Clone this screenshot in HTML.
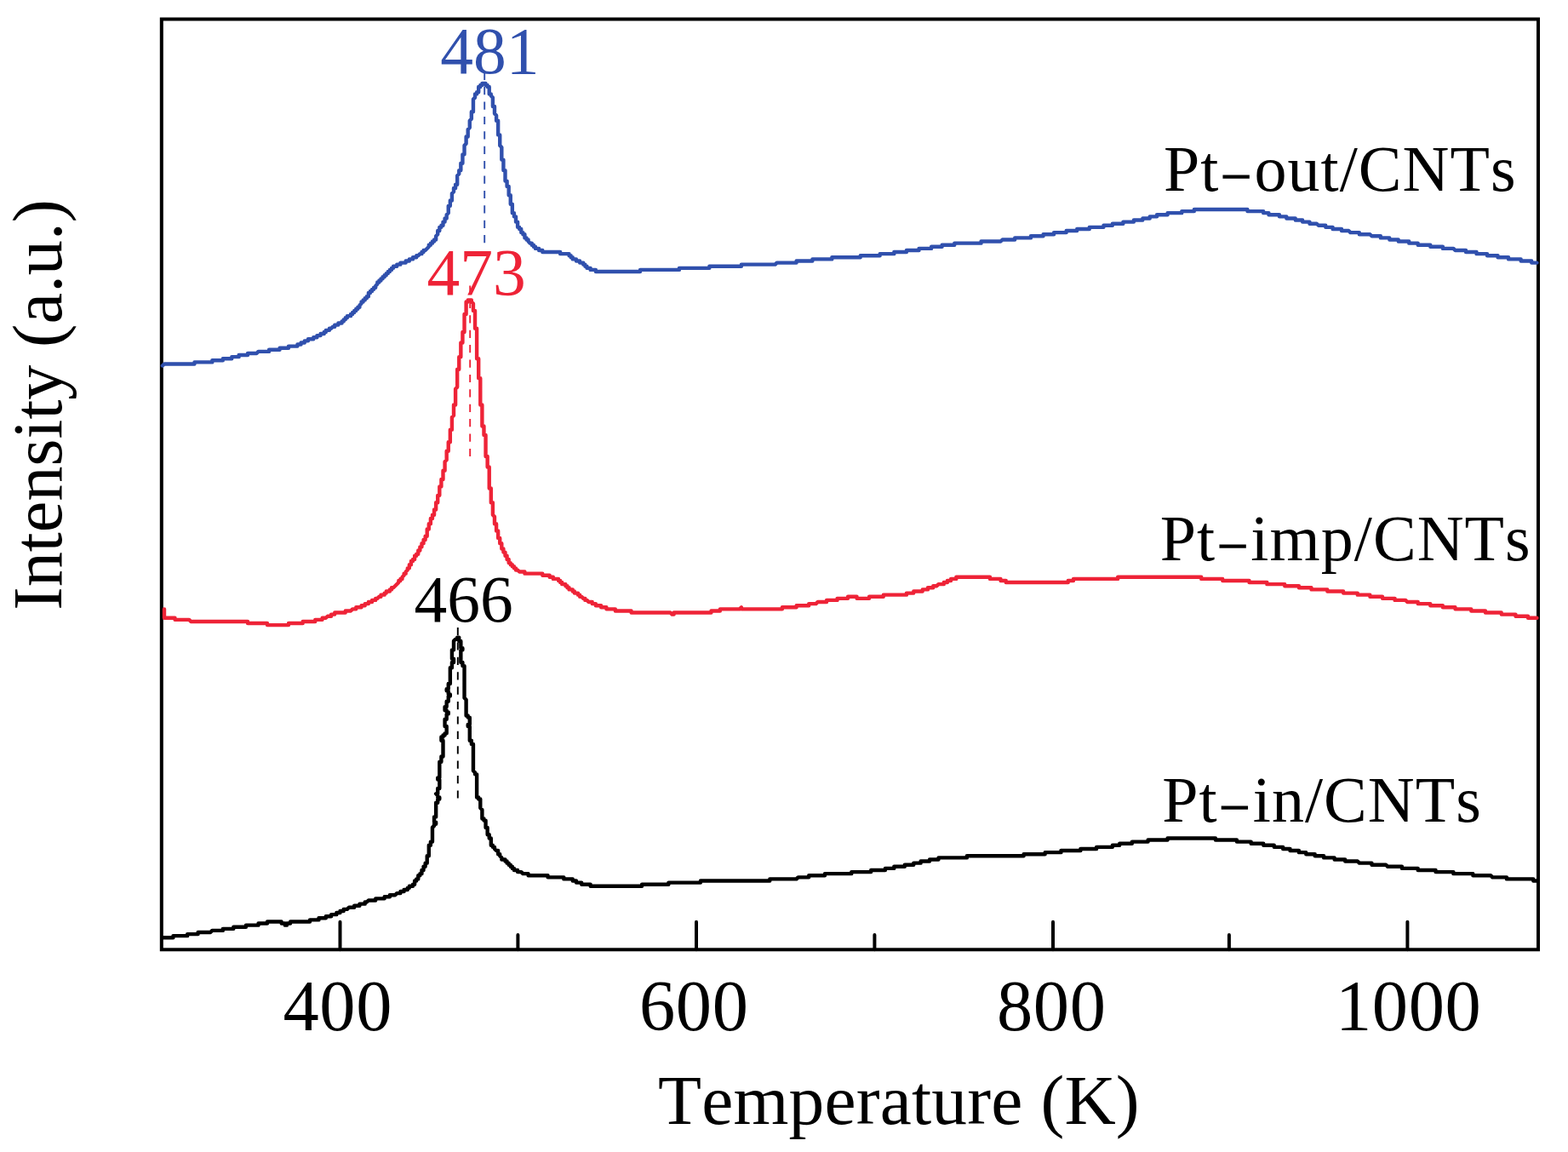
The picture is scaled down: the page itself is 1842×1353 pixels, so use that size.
<!DOCTYPE html>
<html><head><meta charset="utf-8"><title>Intensity vs Temperature</title>
<style>
html,body{margin:0;padding:0;background:#fff;}
body{width:1842px;height:1353px;overflow:hidden;}
svg{display:block;}
text{font-family:'Liberation Serif','Times New Roman',serif;font-kerning:none;}
</style></head><body>
<svg width="1842" height="1353" viewBox="0 0 1842 1353">
<rect x="0" y="0" width="1842" height="1353" fill="#fff"/>
<g stroke="#000" stroke-width="4" stroke-linecap="round" fill="none">
<line x1="399.5" y1="1115.3" x2="399.5" y2="1082.7"/><line x1="818.0" y1="1115.3" x2="818.0" y2="1082.7"/><line x1="1237.0" y1="1115.3" x2="1237.0" y2="1082.7"/><line x1="1653.4" y1="1115.3" x2="1653.4" y2="1082.7"/><line x1="608.4" y1="1115.3" x2="608.4" y2="1098.1"/><line x1="1027.4" y1="1115.3" x2="1027.4" y2="1098.1"/><line x1="1443.9" y1="1115.3" x2="1443.9" y2="1098.1"/>
</g>
<rect x="189.8" y="22.5" width="1617.2" height="1092.8" fill="none" stroke="#000" stroke-width="4"/>
<g fill="none" stroke-linejoin="round" stroke-linecap="round" stroke-width="4.4">
<polyline stroke="#3050ad" points="190.9,429.568 192.986,427.482 228.448,427.482 228.448,425.396 249.308,425.396 249.308,423.31 261.824,423.31 261.824,421.224 272.254,421.224 272.254,419.138 280.598,419.138 280.598,417.052 291.028,417.052 291.028,414.966 301.458,414.966 303.544,412.88 316.06,412.88 316.06,410.794 328.576,410.794 328.576,408.708 339.006,408.708 339.006,406.622 349.436,406.622 349.436,404.536 353.608,404.536 353.608,402.45 357.78,402.45 357.78,400.364 361.952,400.364 361.952,398.278 368.21,398.278 368.21,396.192 372.382,396.192 372.382,394.106 376.554,394.106 376.554,392.02 380.726,392.02 380.726,389.934 382.812,389.934 382.812,387.848 386.984,387.848 386.984,385.762 389.07,385.762 391.156,383.676 393.242,383.676 393.242,381.59 397.414,381.59 397.414,379.504 401.586,379.504 401.586,377.418 403.672,377.418 403.672,375.332 405.758,375.332 405.758,373.246 407.844,373.246 407.844,371.16 412.016,371.16 412.016,369.074 414.102,369.074 414.102,366.988 416.188,366.988 416.188,364.902 418.274,364.902 418.274,362.816 420.36,362.816 420.36,360.73 422.446,360.73 422.446,358.644 424.532,356.558 424.532,354.472 426.618,354.472 426.618,352.386 428.704,352.386 428.704,350.3 430.79,350.3 430.79,348.214 432.876,348.214 432.876,344.042 434.962,344.042 434.962,341.956 437.048,341.956 437.048,339.87 439.134,339.87 439.134,337.784 441.22,337.784 441.22,335.698 443.306,333.612 443.306,331.526 445.392,331.526 445.392,329.44 447.478,329.44 447.478,327.354 449.564,327.354 449.564,325.268 451.65,325.268 451.65,323.182 453.736,323.182 453.736,321.096 455.822,321.096 455.822,319.01 457.908,319.01 457.908,316.924 459.994,316.924 459.994,314.838 462.08,314.838 462.08,312.752 466.252,312.752 466.252,310.666 470.424,310.666 470.424,308.58 476.682,308.58 476.682,306.494 480.854,306.494 480.854,304.408 485.026,304.408 485.026,302.322 489.198,302.322 489.198,300.236 491.284,300.236 493.37,298.15 495.456,298.15 495.456,296.064 497.542,296.064 497.542,293.978 499.628,293.978 503.8,289.806 503.8,287.72 505.886,287.72 505.886,285.634 507.972,285.634 507.972,283.548 510.058,283.548 510.058,281.462 512.144,281.462 512.144,277.29 514.23,275.204 514.23,271.032 516.316,271.032 516.316,266.86 518.402,266.86 518.402,264.774 520.488,264.774 520.488,260.602 522.574,260.602 522.574,256.43 524.66,256.43 524.66,252.258 526.746,250.172 526.746,241.828 528.832,241.828 528.832,235.57 530.918,235.57 530.918,227.226 533.004,225.14 533.004,220.968 535.09,220.968 535.09,216.796 537.176,216.796 537.176,206.366 539.262,204.28 539.262,200.108 541.348,200.108 541.348,191.764 543.434,191.764 543.434,181.334 545.52,181.334 545.52,170.904 547.606,168.818 547.606,160.474 549.692,160.474 549.692,152.13 551.778,150.044 551.778,141.7 553.864,139.614 553.864,131.27 555.95,131.27 555.95,116.668 558.036,114.582 558.036,110.41 560.122,110.41 560.122,108.324 562.208,108.324 562.208,102.066 564.294,102.066 564.294,99.98 566.38,99.98 566.38,97.894 570.552,97.894 570.552,99.98 572.638,99.98 572.638,102.066 574.724,102.066 574.724,110.41 576.81,110.41 576.81,112.496 578.896,114.582 578.896,125.012 580.982,125.012 580.982,133.356 583.068,135.442 583.068,141.7 585.154,141.7 585.154,158.388 587.24,158.388 587.24,170.904 589.326,172.99 589.326,187.592 591.412,187.592 591.412,200.108 593.498,200.108 593.498,212.624 595.584,212.624 595.584,218.882 597.67,218.882 597.67,229.312 599.756,229.312 599.756,239.742 601.842,239.742 601.842,250.172 603.928,250.172 603.928,254.344 606.014,254.344 606.014,260.602 608.1,260.602 608.1,266.86 610.186,266.86 610.186,268.946 612.272,268.946 612.272,273.118 614.358,273.118 614.358,275.204 616.444,275.204 616.444,279.376 618.53,279.376 618.53,281.462 620.616,281.462 620.616,283.548 622.702,285.634 624.788,285.634 624.788,287.72 626.874,287.72 626.874,289.806 628.96,289.806 628.96,291.892 633.132,291.892 633.132,293.978 637.304,293.978 637.304,296.064 658.164,296.064 658.164,298.15 668.594,298.15 668.594,300.236 670.68,300.236 670.68,302.322 672.766,302.322 672.766,304.408 676.938,304.408 676.938,306.494 681.11,306.494 681.11,308.58 685.282,308.58 685.282,310.666 687.368,310.666 687.368,312.752 689.454,312.752 689.454,314.838 693.626,314.838 693.626,316.924 699.884,316.924 699.884,319.01 752.034,319.01 752.034,316.924 797.926,316.924 797.926,314.838 833.388,314.838 833.388,312.752 870.936,312.752 870.936,310.666 910.57,310.666 912.656,308.58 935.602,308.58 935.602,306.494 954.376,306.494 954.376,304.408 977.322,304.408 977.322,302.322 1010.7,302.322 1010.7,300.236 1033.64,300.236 1033.64,298.15 1050.33,298.15 1050.33,296.064 1064.93,296.064 1064.93,293.978 1079.54,293.978 1079.54,291.892 1094.14,291.892 1094.14,289.806 1106.65,289.806 1106.65,287.72 1121.26,287.72 1121.26,285.634 1152.55,285.634 1152.55,283.548 1175.49,283.548 1177.58,281.462 1192.18,281.462 1192.18,279.376 1210.95,279.376 1210.95,277.29 1225.56,277.29 1225.56,275.204 1238.07,275.204 1238.07,273.118 1252.67,273.118 1252.67,271.032 1265.19,271.032 1265.19,268.946 1279.79,268.946 1279.79,266.86 1296.48,266.86 1296.48,264.774 1306.91,264.774 1306.91,262.688 1319.43,262.688 1319.43,260.602 1331.94,260.602 1331.94,258.516 1342.37,258.516 1342.37,256.43 1350.72,256.43 1350.72,254.344 1359.06,254.344 1359.06,252.258 1371.58,252.258 1371.58,250.172 1388.26,250.172 1388.26,248.086 1402.87,248.086 1402.87,246 1465.45,246 1465.45,248.086 1484.22,248.086 1484.22,250.172 1490.48,250.172 1490.48,252.258 1502.99,252.258 1502.99,254.344 1511.34,254.344 1511.34,256.43 1521.77,256.43 1521.77,258.516 1530.11,258.516 1530.11,260.602 1538.46,260.602 1538.46,262.688 1546.8,262.688 1548.89,264.774 1557.23,264.774 1557.23,266.86 1565.57,266.86 1565.57,268.946 1576,268.946 1576,271.032 1584.35,271.032 1586.43,273.118 1596.86,273.118 1596.86,275.204 1609.38,275.204 1611.47,277.29 1621.9,277.29 1621.9,279.376 1632.33,279.376 1632.33,281.462 1642.76,281.462 1642.76,283.548 1655.27,283.548 1655.27,285.634 1665.7,285.634 1665.7,287.72 1680.3,287.72 1680.3,289.806 1694.91,289.806 1694.91,291.892 1707.42,291.892 1709.51,293.978 1722.02,293.978 1722.02,296.064 1734.54,296.064 1734.54,298.15 1747.06,298.15 1747.06,300.236 1759.57,300.236 1759.57,302.322 1772.09,302.322 1772.09,304.408 1786.69,304.408 1786.69,306.494 1799.21,306.494 1799.21,308.58 1805.46,308.58"/>
<polyline stroke="#ee2337" points="192.986,715.35 192.986,725.78 205.502,725.78 205.502,727.866 222.19,727.866 224.276,729.952 291.028,729.952 291.028,732.038 313.974,732.038 313.974,734.124 339.006,734.124 339.006,732.038 355.694,732.038 355.694,729.952 370.296,729.952 370.296,727.866 378.64,727.866 378.64,725.78 382.812,725.78 384.898,723.694 389.07,723.694 389.07,721.608 393.242,721.608 393.242,719.522 405.758,719.522 405.758,717.436 412.016,717.436 414.102,715.35 418.274,715.35 418.274,713.264 424.532,713.264 424.532,711.178 428.704,711.178 428.704,709.092 432.876,709.092 432.876,707.006 437.048,707.006 437.048,704.92 441.22,704.92 441.22,702.834 443.306,702.834 445.392,700.748 447.478,700.748 447.478,698.662 451.65,698.662 451.65,696.576 453.736,696.576 453.736,694.49 457.908,694.49 457.908,692.404 459.994,692.404 459.994,690.318 462.08,690.318 468.338,684.06 468.338,681.974 470.424,681.974 470.424,679.888 472.51,679.888 472.51,677.802 474.596,675.716 474.596,673.63 476.682,673.63 476.682,671.544 478.768,669.458 478.768,667.372 480.854,667.372 480.854,663.2 482.94,663.2 482.94,659.028 485.026,659.028 485.026,656.942 487.112,656.942 487.112,652.77 489.198,652.77 489.198,650.684 491.284,650.684 491.284,646.512 493.37,646.512 493.37,642.34 495.456,642.34 495.456,638.168 497.542,638.168 497.542,633.996 499.628,633.996 499.628,629.824 501.714,629.824 501.714,621.48 503.8,621.48 503.8,615.222 505.886,615.222 505.886,608.964 507.972,608.964 507.972,604.792 510.058,604.792 510.058,598.534 512.144,598.534 512.144,590.19 514.23,590.19 514.23,581.846 516.316,581.846 516.316,571.416 518.402,571.416 518.402,563.072 520.488,563.072 520.488,552.642 522.574,552.642 522.574,542.212 524.66,540.126 524.66,529.696 526.746,529.696 526.746,519.266 528.832,519.266 528.832,504.664 530.918,504.664 530.918,490.062 533.004,487.976 533.004,475.46 535.09,475.46 535.09,456.686 537.176,454.6 537.176,433.74 539.262,433.74 539.262,419.138 541.348,419.138 541.348,402.45 543.434,402.45 543.434,389.934 545.52,389.934 545.52,369.074 547.606,369.074 547.606,354.472 549.692,354.472 549.692,352.386 553.864,352.386 553.864,354.472 555.95,356.558 555.95,364.902 558.036,364.902 558.036,385.762 560.122,385.762 560.122,421.224 562.208,421.224 562.208,444.17 564.294,444.17 564.294,475.46 566.38,475.46 566.38,500.492 568.466,500.492 568.466,510.922 570.552,510.922 570.552,535.954 572.638,535.954 572.638,548.47 574.724,548.47 574.724,573.502 576.81,573.502 576.81,590.19 578.896,590.19 578.896,604.792 580.982,606.878 580.982,615.222 583.068,615.222 583.068,623.566 585.154,623.566 585.154,631.91 587.24,631.91 587.24,638.168 589.326,638.168 589.326,644.426 591.412,644.426 591.412,648.598 593.498,648.598 593.498,652.77 595.584,652.77 595.584,656.942 597.67,656.942 597.67,661.114 599.756,661.114 599.756,663.2 601.842,663.2 601.842,665.286 603.928,665.286 603.928,667.372 606.014,667.372 606.014,669.458 608.1,669.458 610.186,671.544 616.444,671.544 616.444,673.63 637.304,673.63 637.304,675.716 645.648,675.716 645.648,677.802 649.82,677.802 649.82,679.888 656.078,679.888 656.078,681.974 658.164,681.974 658.164,684.06 660.25,684.06 660.25,686.146 664.422,686.146 664.422,688.232 666.508,688.232 666.508,690.318 668.594,690.318 668.594,692.404 672.766,692.404 672.766,694.49 674.852,694.49 674.852,696.576 679.024,696.576 679.024,698.662 681.11,698.662 681.11,700.748 683.196,700.748 685.282,702.834 687.368,702.834 687.368,704.92 689.454,704.92 691.54,707.006 695.712,707.006 695.712,709.092 699.884,709.092 699.884,711.178 706.142,711.178 706.142,713.264 712.4,713.264 712.4,715.35 722.83,715.35 722.83,717.436 741.604,717.436 741.604,719.522 787.496,719.522 789.582,721.608 791.668,721.608 791.668,719.522 835.474,719.522 835.474,717.436 845.904,717.436 845.904,715.35 868.85,715.35 870.936,713.264 870.936,715.35 918.914,715.35 918.914,713.264 935.602,713.264 935.602,711.178 950.204,711.178 950.204,709.092 958.548,709.092 960.634,707.006 971.064,707.006 971.064,704.92 983.58,704.92 983.58,702.834 996.096,702.834 996.096,700.748 1006.53,700.748 1006.53,702.834 1021.13,702.834 1021.13,700.748 1037.82,700.748 1037.82,698.662 1064.93,698.662 1064.93,696.576 1073.28,696.576 1073.28,694.49 1083.71,694.49 1083.71,692.404 1089.97,692.404 1089.97,690.318 1096.22,690.318 1096.22,688.232 1100.4,688.232 1102.48,686.146 1108.74,686.146 1108.74,684.06 1112.91,684.06 1112.91,681.974 1117.08,681.974 1117.08,679.888 1123.34,679.888 1123.34,677.802 1162.98,677.802 1162.98,679.888 1175.49,679.888 1175.49,681.974 1181.75,681.974 1181.75,684.06 1254.76,684.06 1254.76,681.974 1261.02,681.974 1261.02,679.888 1313.17,679.888 1313.17,677.802 1411.21,677.802 1411.21,679.888 1436.24,679.888 1436.24,681.974 1467.53,681.974 1467.53,684.06 1488.39,684.06 1488.39,686.146 1509.25,686.146 1509.25,688.232 1525.94,688.232 1525.94,690.318 1540.54,690.318 1540.54,692.404 1559.32,692.404 1559.32,694.49 1578.09,694.49 1578.09,696.576 1594.78,696.576 1594.78,698.662 1609.38,698.662 1609.38,700.748 1623.98,700.748 1623.98,702.834 1638.58,702.834 1638.58,704.92 1651.1,704.92 1653.19,707.006 1665.7,707.006 1665.7,709.092 1680.3,709.092 1680.3,711.178 1694.91,711.178 1694.91,713.264 1709.51,713.264 1709.51,715.35 1728.28,715.35 1728.28,717.436 1744.97,717.436 1744.97,719.522 1763.74,719.522 1763.74,721.608 1780.43,721.608 1780.43,723.694 1795.03,723.694 1795.03,725.78 1805.46,725.78"/>
<polyline stroke="#000" points="190.9,1101.26 203.416,1101.26 203.416,1099.17 220.104,1099.17 220.104,1097.09 232.62,1097.09 232.62,1095 247.222,1095 249.308,1092.92 261.824,1092.92 261.824,1090.83 274.34,1090.83 274.34,1088.74 288.942,1088.74 288.942,1086.66 303.544,1086.66 303.544,1084.57 313.974,1084.57 313.974,1082.49 330.662,1082.49 330.662,1084.57 334.834,1084.57 334.834,1086.66 336.92,1086.66 336.92,1084.57 341.092,1084.57 341.092,1082.49 364.038,1082.49 364.038,1080.4 374.468,1080.4 374.468,1078.31 382.812,1078.31 382.812,1076.23 389.07,1076.23 389.07,1074.14 395.328,1074.14 395.328,1072.06 399.5,1072.06 399.5,1069.97 403.672,1069.97 403.672,1067.88 407.844,1067.88 409.93,1065.8 416.188,1065.8 416.188,1063.71 422.446,1063.71 422.446,1061.63 428.704,1061.63 428.704,1059.54 430.79,1059.54 432.876,1057.45 441.22,1057.45 441.22,1055.37 451.65,1055.37 451.65,1053.28 457.908,1053.28 457.908,1051.2 464.166,1051.2 466.252,1049.11 470.424,1049.11 470.424,1047.02 474.596,1047.02 474.596,1044.94 478.768,1044.94 478.768,1042.85 480.854,1042.85 480.854,1040.77 485.026,1040.77 485.026,1038.68 487.112,1038.68 487.112,1034.51 489.198,1034.51 489.198,1032.42 491.284,1032.42 491.284,1028.25 493.37,1028.25 493.37,1026.16 495.456,1026.16 495.456,1021.99 497.542,1021.99 497.542,1017.82 499.628,1017.82 499.628,1013.65 501.714,1013.65 501.714,1005.3 503.8,1005.3 503.8,992.788 505.886,992.788 505.886,988.616 507.972,988.616 507.972,971.928 510.058,969.842 510.058,967.756 512.144,967.756 512.144,965.67 510.058,965.67 510.058,961.498 510.058,959.412 512.144,959.412 512.144,942.724 514.23,942.724 514.23,938.552 516.316,938.552 516.316,936.466 514.23,936.466 514.23,934.38 512.144,932.294 514.23,932.294 514.23,926.036 516.316,926.036 516.316,915.606 514.23,915.606 514.23,913.52 516.316,913.52 516.316,894.746 518.402,894.746 518.402,888.488 520.488,888.488 520.488,869.714 518.402,869.714 518.402,865.542 520.488,865.542 520.488,863.456 522.574,863.456 522.574,861.37 524.66,861.37 524.66,853.026 522.574,853.026 522.574,844.682 524.66,844.682 524.66,838.424 526.746,838.424 526.746,836.338 524.66,836.338 524.66,834.252 522.574,834.252 522.574,830.08 524.66,830.08 524.66,823.822 526.746,823.822 526.746,817.564 528.832,817.564 528.832,815.478 526.746,815.478 526.746,811.306 524.66,811.306 524.66,809.22 526.746,809.22 526.746,802.962 528.832,802.962 528.832,784.188 530.918,784.188 530.918,777.93 533.004,777.93 533.004,773.758 530.918,773.758 530.918,763.328 533.004,763.328 533.004,752.898 535.09,750.812 537.176,750.812 537.176,748.726 539.262,748.726 539.262,752.898 541.348,752.898 541.348,761.242 543.434,761.242 543.434,763.328 541.348,763.328 541.348,777.93 543.434,777.93 543.434,782.102 545.52,782.102 545.52,819.65 547.606,821.736 547.606,840.51 549.692,840.51 549.692,842.596 551.778,842.596 551.778,850.94 549.692,850.94 549.692,853.026 551.778,853.026 551.778,869.714 553.864,869.714 553.864,873.886 555.95,873.886 555.95,905.176 558.036,907.262 558.036,909.348 560.122,909.348 560.122,936.466 562.208,936.466 562.208,938.552 564.294,938.552 564.294,948.982 566.38,951.068 566.38,961.498 568.466,961.498 568.466,963.584 570.552,963.584 570.552,971.928 572.638,971.928 572.638,980.272 574.724,980.272 574.724,984.444 576.81,984.444 576.81,992.788 578.896,992.788 578.896,994.874 580.982,994.874 580.982,996.96 583.068,999.046 585.154,999.046 585.154,1003.22 587.24,1003.22 587.24,1005.3 589.326,1007.39 589.326,1009.48 593.498,1009.48 593.498,1011.56 595.584,1011.56 595.584,1013.65 597.67,1013.65 597.67,1015.73 599.756,1015.73 599.756,1017.82 601.842,1017.82 601.842,1019.91 603.928,1019.91 603.928,1021.99 608.1,1021.99 608.1,1024.08 612.272,1024.08 614.358,1026.16 620.616,1026.16 620.616,1028.25 643.562,1028.25 643.562,1030.34 662.336,1030.34 662.336,1032.42 672.766,1032.42 672.766,1034.51 676.938,1034.51 676.938,1036.59 683.196,1036.59 683.196,1038.68 693.626,1038.68 693.626,1040.77 754.12,1040.77 754.12,1038.68 785.41,1038.68 785.41,1036.59 822.958,1036.59 822.958,1034.51 904.312,1034.51 904.312,1032.42 935.602,1032.42 937.688,1030.34 950.204,1030.34 950.204,1028.25 968.978,1028.25 968.978,1026.16 1000.27,1026.16 1000.27,1024.08 1023.21,1024.08 1023.21,1021.99 1039.9,1021.99 1039.9,1019.91 1050.33,1019.91 1050.33,1017.82 1062.85,1017.82 1062.85,1015.73 1073.28,1015.73 1073.28,1013.65 1081.62,1013.65 1081.62,1011.56 1092.05,1011.56 1092.05,1009.48 1102.48,1009.48 1102.48,1007.39 1135.86,1007.39 1135.86,1005.3 1202.61,1005.3 1202.61,1003.22 1227.64,1003.22 1227.64,1001.13 1246.42,1001.13 1246.42,999.046 1269.36,999.046 1269.36,996.96 1288.14,996.96 1288.14,994.874 1306.91,994.874 1306.91,992.788 1315.25,992.788 1315.25,990.702 1329.86,990.702 1329.86,988.616 1348.63,988.616 1348.63,986.53 1371.58,986.53 1371.58,984.444 1427.9,984.444 1427.9,986.53 1452.93,986.53 1452.93,988.616 1469.62,988.616 1469.62,990.702 1484.22,990.702 1484.22,992.788 1496.74,992.788 1496.74,994.874 1507.17,994.874 1507.17,996.96 1515.51,996.96 1515.51,999.046 1525.94,999.046 1525.94,1001.13 1534.28,1001.13 1534.28,1003.22 1544.71,1003.22 1544.71,1005.3 1555.14,1005.3 1555.14,1007.39 1567.66,1007.39 1567.66,1009.48 1580.18,1009.48 1580.18,1011.56 1594.78,1011.56 1596.86,1013.65 1611.47,1013.65 1611.47,1015.73 1628.15,1015.73 1630.24,1017.82 1646.93,1017.82 1646.93,1019.91 1665.7,1019.91 1665.7,1021.99 1686.56,1021.99 1686.56,1024.08 1707.42,1024.08 1707.42,1026.16 1730.37,1026.16 1730.37,1028.25 1751.23,1028.25 1753.31,1030.34 1770,1030.34 1770,1032.42 1801.29,1032.42 1801.29,1034.51 1805.46,1034.51"/>
</g>
<g fill="none" stroke-width="1.9" stroke-dasharray="9.2 8.2">
<line x1="569.2" y1="84.7" x2="569.2" y2="286" stroke="#3050ad"/>
<line x1="552.2" y1="335.5" x2="552.2" y2="536" stroke="#ee2337"/>
<line x1="537.8" y1="737" x2="537.8" y2="938" stroke="#000"/>
</g>
<g font-size="84.5" fill="#000" letter-spacing="0.6">
<text x="332.5" y="1210">400</text>
<text x="751" y="1210">600</text>
<text x="1171" y="1210">800</text>
<text x="1569" y="1210">1000</text>
</g>
<text x="773" y="1320.2" font-size="83.5" fill="#000" letter-spacing="0.17">Temperature (K)</text>
<text transform="translate(71.9,716.8) rotate(-90)" x="0" y="0" font-size="82.4" fill="#000">Intensity (a.u.)</text>
<g font-size="76" fill="#000" letter-spacing="1.05">
<text x="1366.9" y="224">Pt<tspan dx="5.1" dy="-2.9" font-size="58.5" stroke="#000" stroke-width="1.3">–</tspan><tspan dx="5.65" dy="2.9">out/CNTs</tspan></text>
<text x="1362.8" y="657.9">Pt<tspan dx="5.1" dy="-2.9" font-size="58.5" stroke="#000" stroke-width="1.3">–</tspan><tspan dx="5.65" dy="2.9">imp/CNTs</tspan></text>
<text x="1365.2" y="965">Pt<tspan dx="5.1" dy="-2.9" font-size="58.5" stroke="#000" stroke-width="1.3">–</tspan><tspan dx="5.65" dy="2.9">in/CNTs</tspan></text>
</g>
<g font-size="77.5">
<text x="517.3" y="86" fill="#3050ad">481</text>
<text x="501.4" y="345.8" fill="#ee2337">473</text>
<text x="486.4" y="729.9" fill="#000">466</text>
</g>
</svg>
</body></html>
